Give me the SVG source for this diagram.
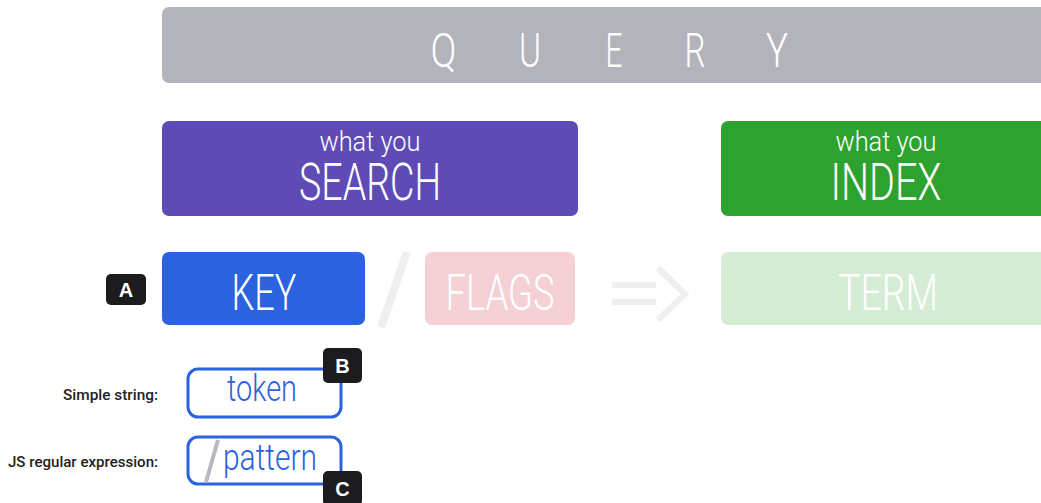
<svg xmlns="http://www.w3.org/2000/svg" width="1041" height="503" viewBox="0 0 1041 503">
<style>
.lt{font-family:Roboto,"Liberation Sans",sans-serif;font-weight:300;fill:#fff;text-anchor:middle}
.bl{font-family:Roboto,"Liberation Sans",sans-serif;font-weight:300;fill:#2b62de;text-anchor:middle}
.lab{font-family:Roboto,"Liberation Sans",sans-serif;font-weight:500;fill:#222;font-size:15px;text-anchor:end}
.badge{fill:#1c1b1e}
.bt{font-family:"Liberation Sans",Arial,sans-serif;font-weight:bold;fill:#fff;font-size:20px;text-anchor:middle}
.conn{stroke:#efeff1;fill:none}
.q{font-size:49px}
</style>
<rect width="1041" height="503" fill="#fff"/>
<g id="query">
<rect x="162" y="7" width="900" height="76" rx="7" fill="#b3b3bb"/>
<text class="lt q" x="443.5" y="67" textLength="26" lengthAdjust="spacingAndGlyphs">Q</text>
<text class="lt q" x="530" y="67" textLength="22" lengthAdjust="spacingAndGlyphs">U</text>
<text class="lt q" x="614" y="67" textLength="17" lengthAdjust="spacingAndGlyphs">E</text>
<text class="lt q" x="695" y="67" textLength="21" lengthAdjust="spacingAndGlyphs">R</text>
<text class="lt q" x="777" y="67" textLength="22" lengthAdjust="spacingAndGlyphs">Y</text>
</g>
<g id="search">
<rect x="162" y="121" width="416" height="95" rx="7" fill="#5f4bb6"/>
<text class="lt" font-size="27" x="370" y="151" textLength="101" lengthAdjust="spacingAndGlyphs">what you</text>
<text class="lt" font-size="52" x="370" y="200" textLength="142" lengthAdjust="spacingAndGlyphs">SEARCH</text>
</g>
<g id="index">
<rect x="721" y="121" width="340" height="95" rx="7" fill="#2ea22e"/>
<text class="lt" font-size="27" x="886" y="151" textLength="101" lengthAdjust="spacingAndGlyphs">what you</text>
<text class="lt" font-size="52" x="886" y="200" textLength="111" lengthAdjust="spacingAndGlyphs">INDEX</text>
</g>
<g id="badgeA">
<rect class="badge" x="106" y="274" width="40" height="31" rx="5"/>
<text class="bt" x="126" y="297">A</text>
</g>
<g id="key">
<rect x="162" y="252" width="203" height="73" rx="7" fill="#2b62de"/>
<text class="lt" font-size="50" x="264" y="310" textLength="65" lengthAdjust="spacingAndGlyphs">KEY</text>
</g>
<g id="flags">
<rect x="425" y="252" width="150" height="73" rx="7" fill="#f5d0d5"/>
<text class="lt" font-size="50" x="500" y="310" textLength="109" lengthAdjust="spacingAndGlyphs">FLAGS</text>
</g>
<g id="term">
<rect x="721" y="252" width="340" height="73" rx="7" fill="#d5ecd5"/>
<text class="lt" font-size="50" x="888" y="310" textLength="100" lengthAdjust="spacingAndGlyphs">TERM</text>
</g>
<g id="connectors">
<line class="conn" x1="407" y1="252" x2="381" y2="327" stroke-width="8"/>
<line class="conn" x1="612" y1="285" x2="656" y2="285" stroke-width="6"/>
<line class="conn" x1="612" y1="302" x2="656" y2="302" stroke-width="6"/>
<polyline class="conn" points="658,268 685,294 658,320" stroke-width="6"/>
</g>
<g id="simple">
<text class="lab" x="158" y="400" textLength="95" lengthAdjust="spacingAndGlyphs">Simple string:</text>
<rect x="188" y="369" width="153" height="48" rx="10" fill="#fff" stroke="#2b62de" stroke-width="3"/>
<text class="bl" font-size="36" x="262" y="401" textLength="70" lengthAdjust="spacingAndGlyphs">token</text>
<rect class="badge" x="323" y="348" width="39" height="35" rx="5"/>
<text class="bt" x="342.5" y="373">B</text>
</g>
<g id="regex">
<text class="lab" x="158" y="467" textLength="150" lengthAdjust="spacingAndGlyphs">JS regular expression:</text>
<rect x="188" y="437" width="153" height="47" rx="10" fill="#fff" stroke="#2b62de" stroke-width="3"/>
<line x1="218" y1="440" x2="206" y2="482" stroke="#b8b8c0" stroke-width="4"/>
<text class="bl" font-size="36" x="270" y="470" textLength="94" lengthAdjust="spacingAndGlyphs">pattern</text>
<rect class="badge" x="323" y="471" width="39" height="35" rx="5"/>
<text class="bt" x="342.5" y="496">C</text>
</g>
</svg>
